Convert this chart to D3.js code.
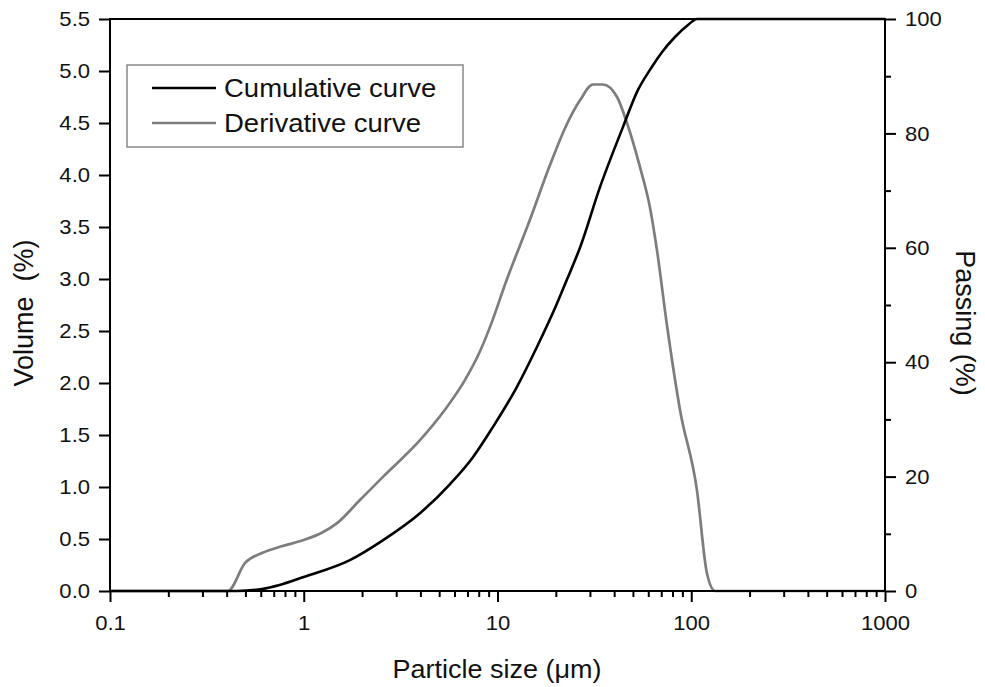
<!DOCTYPE html>
<html>
<head>
<meta charset="utf-8">
<script src="https://cdn.jsdelivr.net/npm/d3@7"></script>
<style>
  body { margin: 0; background: #fff; }
  text { font-family: "Liberation Sans", Arial, sans-serif; fill: #111; }
</style>
</head>
<body>
<div id="chart"></div>
<script>
var w = 985, h = 687;

// particle size (um) and values
var derivSize  = [0.1, 0.406, 0.498, 0.609, 0.77, 1.0, 1.24, 1.48, 1.95, 2.57, 3.98, 5.34, 6.8, 8.1, 9.37, 10.9, 14.7, 18.7, 22.3, 26.7, 31.1, 35, 41.4, 46.6, 54.3, 61.2, 66.5, 75, 87.5, 107, 120.5, 132.6, 1000];
var derivValue = [0, 0, 0.27, 0.365, 0.43, 0.49, 0.56, 0.65, 0.875, 1.10, 1.45, 1.74, 2.03, 2.30, 2.59, 2.94, 3.57, 4.10, 4.45, 4.72, 4.87, 4.87, 4.75, 4.50, 4.08, 3.69, 3.28, 2.55, 1.74, 0.97, 0.17, 0, 0];

var cumSize  = [0.1, 0.45, 0.61, 0.75, 1.0, 1.73, 2.57, 3.98, 5.69, 7.47, 9.48, 12.6, 16, 20.3, 22.8, 26.7, 33.8, 44.4, 53.1, 61.2, 70.6, 82.4, 96.2, 107, 1000];
var cumValue = [0, 0, 0.35, 1.05, 2.45, 5.4, 8.9, 13.6, 18.7, 23.4, 28.7, 35.7, 42.7, 50.3, 54.4, 60.1, 70.6, 81.1, 87.6, 91.1, 94.2, 96.85, 98.95, 100, 100];

var xTicks = [0.1, 1, 10, 100, 1000];
var xTickLabels = ["0.1", "1", "10", "100", "1000"];
var leftTicks = [0, 0.5, 1, 1.5, 2, 2.5, 3, 3.5, 4, 4.5, 5, 5.5];
var rightTicks = [0, 20, 40, 60, 80, 100];
var rightMinor = [10, 30, 50, 70, 90];

var legendNames = ["Cumulative curve", "Derivative curve"];
var colors = ["#000000", "#7d7d7d"];

var svg = d3.select("#chart").append("svg")
    .attr("width", w)
    .attr("height", h);

// plot box (window.top is reserved, so no "top" here)
var pLeft = 110, pRight = 885, pTop = 19, pBottom = 591;
var sx = 1.05; // fonts in the picture look slightly stretched sideways

var x = d3.scaleLog().domain([0.1, 1000]).range([pLeft, pRight]);
var yL = d3.scaleLinear().domain([0, 5.5]).range([pBottom, pTop]);
var yR = d3.scaleLinear().domain([0, 100]).range([pBottom, pTop]);

// minor ticks on the log axis
var xMinor = [];
[0.1, 1, 10, 100].forEach(function(d) {
  for (var k = 2; k <= 9; k++) xMinor.push(d * k);
});

// curves
var lineD = d3.line()
    .x(function(d, i) { return x(derivSize[i]); })
    .y(function(d) { return yL(d); })
    .curve(d3.curveMonotoneX);
var lineC = d3.line()
    .x(function(d, i) { return x(cumSize[i]); })
    .y(function(d) { return yR(d); })
    .curve(d3.curveMonotoneX);

svg.append("path").datum(derivValue)
    .attr("d", lineD)
    .attr("fill", "none")
    .attr("stroke", colors[1])
    .attr("stroke-width", 2.7);

svg.append("path").datum(cumValue)
    .attr("d", lineC)
    .attr("fill", "none")
    .attr("stroke", colors[0])
    .attr("stroke-width", 2.6);

// axes
function styleAxis(g) {
  g.select(".domain").remove();
  g.selectAll("line").attr("stroke", "#000").attr("stroke-width", 2);
  g.selectAll("text").style("font-size", "21px").attr("fill", "#111");
}

var gLeft = svg.append("g")
    .attr("transform", "translate(" + pLeft + ",0)")
    .call(d3.axisLeft(yL).tickValues(leftTicks).tickFormat(d3.format(".1f")).tickSize(11))
    .call(styleAxis);
gLeft.selectAll("text").attr("x", -20 / sx).attr("transform", "scale(" + sx + ",1)");

var gBottom = svg.append("g")
    .attr("transform", "translate(0," + pBottom + ")")
    .call(d3.axisBottom(x).tickValues(xTicks).tickFormat(function(d, i) { return xTickLabels[i]; }).tickSize(11).tickPadding(13))
    .call(styleAxis);
gBottom.selectAll("text").attr("transform", "scale(" + sx + ",1)");

svg.append("g")
    .attr("transform", "translate(0," + pBottom + ")")
    .call(d3.axisBottom(x).tickValues(xMinor).tickFormat("").tickSize(6))
    .call(styleAxis);

var gRight = svg.append("g")
    .attr("transform", "translate(" + pRight + ",0)")
    .call(d3.axisRight(yR).tickValues(rightTicks).tickSize(11))
    .call(styleAxis);
gRight.selectAll("text").attr("x", 20 / sx).attr("transform", "scale(" + sx + ",1)");

svg.append("g")
    .attr("transform", "translate(" + pRight + ",0)")
    .call(d3.axisRight(yR).tickValues(rightMinor).tickFormat("").tickSize(6))
    .call(styleAxis);

// frame
svg.append("rect")
    .attr("x", pLeft).attr("y", pTop)
    .attr("width", pRight - pLeft).attr("height", pBottom - pTop)
    .attr("fill", "none")
    .attr("stroke", "#000")
    .attr("stroke-width", 2);

// axis titles
svg.append("text")
    .attr("transform", "translate(497,678) scale(1.08,1)")
    .attr("text-anchor", "middle")
    .style("font-size", "25px")
    .text("Particle size (\u03bcm)");

svg.append("text")
    .attr("transform", "translate(33,313) rotate(-90)")
    .attr("text-anchor", "middle")
    .style("font-size", "27px")
    .style("white-space", "pre")
    .text("Volume  (%)");

svg.append("text")
    .attr("transform", "translate(956,323) rotate(90)")
    .attr("text-anchor", "middle")
    .style("font-size", "27px")
    .text("Passing (%)");

// legend
svg.append("rect")
    .attr("x", 127).attr("y", 65)
    .attr("width", 336).attr("height", 82)
    .attr("fill", "#fff")
    .attr("stroke", "#888")
    .attr("stroke-width", 1.5);

var leg = svg.selectAll(".leg").data(legendNames).enter().append("g")
    .attr("class", "leg")
    .attr("transform", function(d, i) { return "translate(0," + (88 + i * 35) + ")"; });
leg.append("line")
    .attr("x1", 152).attr("x2", 216)
    .attr("stroke", function(d, i) { return colors[i]; })
    .attr("stroke-width", 2.6);
leg.append("text")
    .attr("transform", "translate(224,9) scale(1.1,1)")
    .style("font-size", "25px")
    .text(function(d) { return d; });
</script>
</body>
</html>
